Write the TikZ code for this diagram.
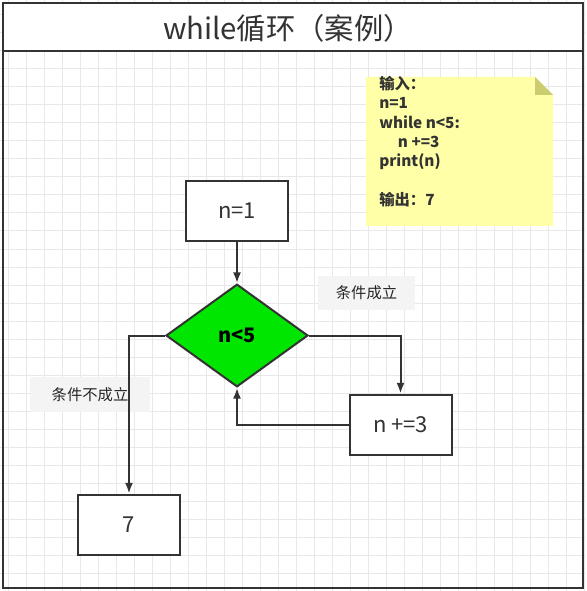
\documentclass[tikz,border=0pt]{standalone}
\usepackage{fontspec}
\setmainfont{Noto Sans CJK SC}
\usetikzlibrary{arrows.meta,shapes.geometric,positioning}
\tikzset{>={Latex[length=8pt,width=6pt]}}
\definecolor{inkgray}{HTML}{333333}
\definecolor{gridgray}{HTML}{E8E8E8}
\definecolor{tagfill}{HTML}{F4F4F4}
\definecolor{notefill}{HTML}{FFFFA8}
\definecolor{notefold}{HTML}{CCCC70}
\definecolor{condgreen}{HTML}{00E600}
\tikzset{
  procbox/.style={draw=inkgray, line width=1.5pt, fill=white, minimum width=76.5pt,
    minimum height=45pt, inner sep=0pt, font=\fontsize{16.5pt}{19pt}\selectfont, text=inkgray},
  condbox/.style={diamond, draw=inkgray, line width=1.5pt, fill=condgreen, minimum width=106.5pt,
    minimum height=77pt, inner sep=0pt, font=\bfseries\fontsize{15pt}{18pt}\selectfont},
  tagbox/.style={fill=tagfill, inner sep=0pt, font=\fontsize{11.5pt}{13pt}\selectfont, text=black!85},
  flow/.style={->, draw=inkgray, line width=1.5pt},
}
\begin{document}
\begin{tikzpicture}[x=0.75pt, y=-0.75pt]
  \useasboundingbox (0,0) rectangle (586,591);
  % 背景网格
  \fill[white] (0,0) rectangle (586,591);
  \foreach \x in {8,26,...,584}
    \draw[gridgray, line width=0.75pt] (\x,0) -- (\x,591);
  \foreach \y in {15,33,...,591}
    \draw[gridgray, line width=0.75pt] (0,\y) -- (586,\y);
  % 标题栏
  \fill[white] (3,3) rectangle (583,51);
  \draw[inkgray, line width=1.5pt] (3,3) rectangle (583,588);
  \draw[inkgray, line width=1.5pt] (3,51) -- (583,51);
  \node[text=inkgray, font=\fontsize{22pt}{26pt}\selectfont] (title) at (288,28) {while循环（案例）};

  % 便签
  \fill[notefill] (366,77) -- (535,77) -- (553,95) -- (553,226) -- (366,226) -- cycle;
  \fill[notefold] (535,77) -- (553,95) -- (535,95) -- cycle;
  \node[anchor=north west, align=left, inner sep=0pt, text=inkgray,
        font=\bfseries\fontsize{11.5pt}{14.5pt}\selectfont] (code) at (379,76)
    {输入：\\ n=1\\ while n<5:\\ \hspace*{14pt}n +=3\\ print(n)\\[14.5pt] 输出：7};

  % 流程节点
  \node[procbox] (init) at (237,211) {n=1};
  \node[condbox] (cond) at (237,335.5) {n<5};
  \node[procbox] (step) at (400.5,424.5) {n +=3};
  \node[procbox] (out) at (129,524.5) {7};

  % 分支说明
  \node[tagbox, minimum width=72.75pt, minimum height=25.5pt] (yes) at (366.5,293) {条件成立};
  \node[tagbox, minimum width=90pt, minimum height=26.25pt] (no) at (90,394.5) {条件不成立};

  % 连线
  \draw[flow] (init) -- (cond);
  \draw[flow] (cond.east) -| (step.north);
  \draw[flow] (step.west) -| (cond.south);
  \draw[flow] (cond.west) -| (out.north);
\end{tikzpicture}
\end{document}
